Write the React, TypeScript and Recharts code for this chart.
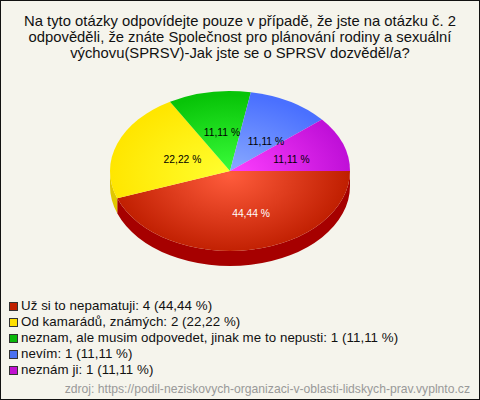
import { PieChart, Pie, Legend } from "recharts";

const title = [
  "Na tyto otázky odpovídejte pouze v případě, že jste na otázku č. 2",
  "odpověděli, že znáte Společnost pro plánování rodiny a sexuální",
  "výchovu(SPRSV)-Jak jste se o SPRSV dozvěděl/a?",
];
const categories = [
  "Už si to nepamatuji",
  "Od kamarádů, známých",
  "neznam, ale musim odpovedet, jinak me to nepusti",
  "nevím",
  "neznám ji",
];
const values = [4, 2, 1, 1, 1];
const centerColors = ["#ff5c3c", "#ffff30", "#3cff3c", "#8cacff", "#ff40ff"];
const edgeColors = ["#bf1e00", "#ffe600", "#08c408", "#4a70ff", "#c010d8"];
const sideColors = ["#a60000", "#e0c800", "#009000", "#2a50d0", "#9000a8"];
const legendColors = ["#c02000", "#ffe000", "#0ab80a", "#4a70f0", "#c010d0"];
const labelColors = ["#ffffff", "#000000", "#000000", "#000000", "#000000"];
// small hand tweaks so the percent labels sit where the original puts them
const labelNudgeX = [5, 1, -4, 1, 1];
const labelNudgeY = [1, 1, 0, 5, 1];

const source = "zdroj: https://podil-neziskovych-organizaci-v-oblasti-lidskych-prav.vyplnto.cz";

const CX = 230;
const CY = 171;
const RX = 120;
const RY = 80;
const DEPTH = 15;
const FONT = '"Liberation Sans", Arial, sans-serif';

const total = values.reduce((a, b) => a + b, 0);
const pct = (v: number) => ((v / total) * 100).toFixed(2).replace(".", ",");
const data = categories.map((name, i) => ({ name, value: values[i], idx: i }));

// clockwise angle in degrees, 0 = right
const pt = (a: number, dy = 0) => {
  const r = (a * Math.PI) / 180;
  return [CX + RX * Math.cos(r), CY + RY * Math.sin(r) + dy];
};

function TopSlice(props: any) {
  const s = -props.startAngle;
  const e = -props.endAngle;
  const [x1, y1] = pt(s);
  const [x2, y2] = pt(e);
  const large = e - s > 180 ? 1 : 0;
  return (
    <path
      d={`M${CX},${CY} L${x1},${y1} A${RX},${RY} 0 ${large} 1 ${x2},${y2} Z`}
      fill={`url(#slice${props.idx})`}
    />
  );
}

function SideSlice(props: any) {
  const s = Math.min(-props.startAngle, 180);
  const e = Math.min(-props.endAngle, 180);
  if (e <= s) return null;
  const [x1, y1] = pt(s);
  const [x2, y2] = pt(e);
  return (
    <path
      d={`M${x1},${y1} A${RX},${RY} 0 0 1 ${x2},${y2} L${x2},${y2 + DEPTH} A${RX},${RY} 0 0 0 ${x1},${y1 + DEPTH} Z`}
      fill={sideColors[props.idx]}
    />
  );
}

function SliceLabel(props: any) {
  const r = (-props.midAngle * Math.PI) / 180;
  const x = CX + 6 + 58 * Math.cos(r) + labelNudgeX[props.idx];
  const y = CY + 1.5 + 41 * Math.sin(r) + labelNudgeY[props.idx];
  return (
    <text
      x={x}
      y={y}
      textAnchor="middle"
      dominantBaseline="central"
      fontFamily={FONT}
      fontSize={10.3}
      fill={labelColors[props.idx]}
    >
      {pct(props.value)} %
    </text>
  );
}

function LegendList() {
  return (
    <div style={{ fontFamily: FONT, fontSize: 13.3, letterSpacing: 0.06, color: "#111" }}>
      {categories.map((c, i) => (
        <div key={c} style={{ height: 16, lineHeight: "16px", display: "flex", alignItems: "center", whiteSpace: "nowrap" }}>
          <span
            style={{
              width: 7,
              height: 7,
              marginRight: 3,
              background: legendColors[i],
              border: "1px solid #333",
              display: "inline-block",
            }}
          />
          {c}: {values[i]} ({pct(values[i])} %)
        </div>
      ))}
    </div>
  );
}

export default function App() {
  return (
    <div
      style={{
        position: "relative",
        width: 478,
        height: 398,
        background: "#f5f4ec",
        border: "1px solid #111",
        overflow: "hidden",
      }}
    >
      <style>{"html,body{margin:0;padding:0}"}</style>
      <div
        style={{
          position: "absolute",
          left: -1,
          top: 12,
          width: 480,
          textAlign: "center",
          fontFamily: FONT,
          fontSize: 14.8,
          lineHeight: "16px",
          color: "#111",
        }}
      >
        {title.map((t) => (
          <div key={t} style={{ whiteSpace: "nowrap" }}>{t}</div>
        ))}
      </div>
      <div style={{ position: "absolute", left: -1, top: -1 }}>
        <PieChart width={480} height={400} margin={{ top: 0, right: 0, bottom: 0, left: 0 }}>
          <defs>
            {categories.map((c, i) => (
              <radialGradient
                key={c}
                id={`slice${i}`}
                gradientUnits="userSpaceOnUse"
                cx={0}
                cy={0}
                r={1}
                gradientTransform={`translate(${CX} ${CY + 4}) scale(${RX} ${RY})`}
              >
                <stop offset="0%" stopColor={centerColors[i]} />
                <stop offset="100%" stopColor={edgeColors[i]} />
              </radialGradient>
            ))}
          </defs>
          <Pie
            data={data}
            dataKey="value"
            nameKey="name"
            cx={CX}
            cy={CY}
            outerRadius={RX}
            startAngle={0}
            endAngle={-360}
            legendType="none"
            stroke="none"
            shape={SideSlice}
            isAnimationActive={false}
          />
          <Pie
            data={data}
            dataKey="value"
            nameKey="name"
            cx={CX}
            cy={CY}
            outerRadius={RX}
            startAngle={0}
            endAngle={-360}
            stroke="none"
            shape={TopSlice}
            label={SliceLabel}
            labelLine={false}
            isAnimationActive={false}
          />
          <Legend
            content={<LegendList />}
            wrapperStyle={{ position: "absolute", left: 9, top: 298, bottom: "auto", width: 460 }}
          />
        </PieChart>
      </div>
      <div
        style={{
          position: "absolute",
          right: 9,
          top: 381,
          fontFamily: FONT,
          fontSize: 12.15,
          lineHeight: "14px",
          color: "#999",
          whiteSpace: "nowrap",
        }}
      >
        {source}
      </div>
    </div>
  );
}
